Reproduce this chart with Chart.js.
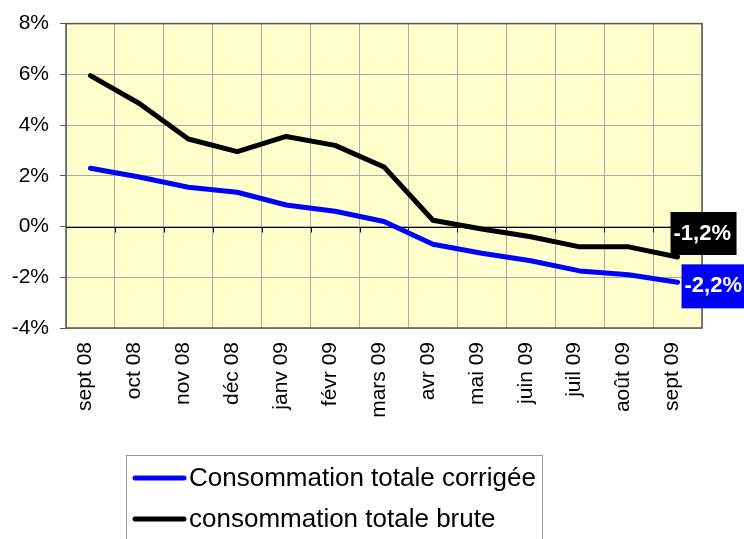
<!DOCTYPE html>
<html>
<head>
<meta charset="utf-8">
<script src="https://cdn.jsdelivr.net/npm/chart.js@4/dist/chart.umd.min.js"></script>
<style>
  html, body { margin: 0; padding: 0; background: #fff; }
  #wrap { width: 744px; height: 539px; position: relative; }
</style>
</head>
<body>
<div id="wrap"><canvas id="chart"></canvas></div>
<script>
// Données
const mois = ['sept 08', 'oct 08', 'nov 08', 'déc 08', 'janv 09', 'févr 09', 'mars 09',
              'avr 09', 'mai 09', 'juin 09', 'juil 09', 'août 09', 'sept 09'];
const corrigee = [2.3, 1.95, 1.55, 1.35, 0.85, 0.6, 0.2, -0.7, -1.05, -1.35, -1.75, -1.9, -2.2];
const brute = [5.95, 4.85, 3.45, 2.95, 3.55, 3.2, 2.35, 0.25, -0.1, -0.4, -0.8, -0.8, -1.2];
const yTicks = [-4, -2, 0, 2, 4, 6, 8];
const libelles = ['Consommation totale corrigée', 'consommation totale brute'];
const couleurs = ['#0000ff', '#000000'];

const fontFamily = 'Arial, "Liberation Sans", sans-serif';

// Fond jaune + cadre + axe du zéro
const fondPlugin = {
    id: 'fond',
    beforeDraw(chart) {
        const { ctx, chartArea: a } = chart;
        ctx.save();
        ctx.fillStyle = '#ffffcc';
        ctx.fillRect(a.left, a.top, a.right - a.left, a.bottom - a.top);
        ctx.restore();
    },
    beforeDatasetsDraw(chart) {
        const { ctx, chartArea: a, scales } = chart;
        const y0 = Math.round(scales.y.getPixelForValue(0)) + 0.5;
        ctx.save();
        ctx.strokeStyle = '#555';
        ctx.lineWidth = 1.5;
        ctx.strokeRect(a.left, a.top, a.right - a.left, a.bottom - a.top);
        // axe à zéro avec graduations
        ctx.strokeStyle = '#000';
        ctx.lineWidth = 1;
        ctx.beginPath();
        ctx.moveTo(a.left, y0);
        ctx.lineTo(a.right, y0);
        const n = mois.length;
        const w = (a.right - a.left) / n;
        for (let i = 1; i < n; i++) {
            const x = Math.round(a.left + w * i) + 0.5;
            ctx.moveTo(x, y0);
            ctx.lineTo(x, y0 + 5);
        }
        ctx.stroke();
        ctx.restore();
    }
};

// Étiquettes de fin de série
const etiquettesPlugin = {
    id: 'etiquettes',
    afterDatasetsDraw(chart) {
        const { ctx } = chart;
        ctx.save();
        ctx.font = 'bold 22px ' + fontFamily;
        ctx.textBaseline = 'middle';
        ctx.textAlign = 'left';
        // brute (noir) : au-dessus à droite
        const pb = chart.getDatasetMeta(1).data[mois.length - 1];
        const vb = brute[brute.length - 1].toFixed(1).replace('.', ',') + '%';
        ctx.fillStyle = '#000';
        ctx.fillRect(pb.x - 7, pb.y - 45, 66, 43);
        ctx.fillStyle = '#fff';
        ctx.fillText(vb, pb.x - 4, pb.y - 23);
        // corrigée (bleu) : à droite
        const pc = chart.getDatasetMeta(0).data[mois.length - 1];
        const vc = corrigee[corrigee.length - 1].toFixed(1).replace('.', ',') + '%';
        ctx.fillStyle = '#0000ff';
        ctx.fillRect(pc.x + 4, pc.y - 18, 66, 44);
        ctx.fillStyle = '#fff';
        ctx.fillText(vc, pc.x + 7, pc.y + 4);
        ctx.restore();
    }
};

// Légende dessinée en bas
const legendePlugin = {
    id: 'legende',
    afterDraw(chart) {
        const { ctx } = chart;
        ctx.save();
        ctx.strokeStyle = '#999';
        ctx.lineWidth = 1;
        ctx.strokeRect(126.5, 455.5, 416, 100);
        ctx.font = '26px ' + fontFamily;
        ctx.textBaseline = 'middle';
        ctx.lineCap = 'round';
        libelles.forEach((txt, i) => {
            const y = 478 + i * 41;
            ctx.strokeStyle = couleurs[i];
            ctx.lineWidth = 5;
            ctx.beginPath();
            ctx.moveTo(135, y);
            ctx.lineTo(184, y);
            ctx.stroke();
            ctx.fillStyle = '#000';
            ctx.fillText(txt, 189, y + 1);
        });
        ctx.restore();
    }
};

const config = {
    type: 'line',
    data: {
        labels: mois,
        datasets: [{
            label: libelles[0],
            data: corrigee,
            borderColor: couleurs[0],
            borderWidth: 5,
            pointRadius: 0,
            tension: 0,
            borderCapStyle: 'round',
            borderJoinStyle: 'round'
        }, {
            label: libelles[1],
            data: brute,
            borderColor: couleurs[1],
            borderWidth: 5,
            pointRadius: 0,
            tension: 0,
            borderCapStyle: 'round',
            borderJoinStyle: 'round'
        }]
    },
    options: {
        responsive: true,
        maintainAspectRatio: false,
        animation: false,
        layout: { padding: { top: 22, right: 42, left: 0, bottom: 0 } },
        plugins: {
            legend: { display: false },
            tooltip: { enabled: false }
        },
        scales: {
            x: {
                offset: true,
                grid: { offset: true, color: '#aaa', drawTicks: false },
                border: { display: false },
                ticks: {
                    color: '#000',
                    font: { family: fontFamily, size: 21 },
                    maxRotation: 90,
                    minRotation: 90,
                    padding: 14,
                    labelOffset: -5,
                    autoSkip: false
                },
                afterFit(scale) { scale.height = 211; }
            },
            y: {
                min: -4,
                max: 8,
                afterBuildTicks(scale) { scale.ticks = yTicks.map(v => ({ value: v })); },
                grid: { color: '#aaa', tickLength: 6, tickColor: '#555' },
                border: { display: false },
                ticks: {
                    color: '#000',
                    font: { family: fontFamily, size: 21 },
                    padding: 11,
                    callback: v => v + '%'
                },
                afterFit(scale) { scale.width = 66; }
            }
        }
    },
    plugins: [fondPlugin, etiquettesPlugin, legendePlugin]
};

new Chart(document.getElementById('chart'), config);
</script>
</body>
</html>
